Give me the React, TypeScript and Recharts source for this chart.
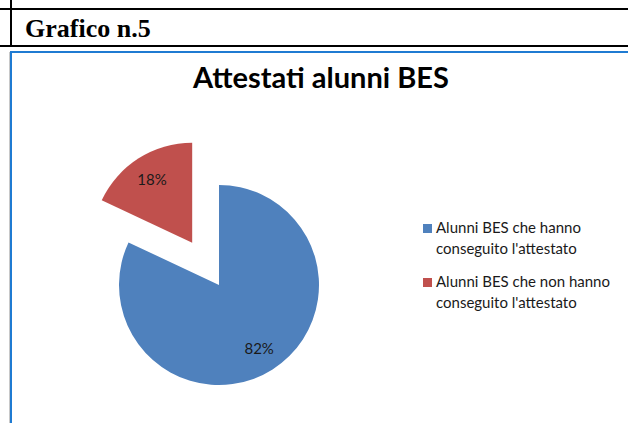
import { Cell, Legend, Pie, PieChart } from "recharts";

// categorie e valori (percentuali) del grafico
const categorie = [
  "Alunni BES che hanno conseguito l'attestato",
  "Alunni BES che non hanno conseguito l'attestato",
];
const valori = [82, 18];
const colori = ["#4F81BD", "#C0504D"];

const titoloTabella = "Grafico n.5";
const titoloGrafico = "Attestati alunni BES";

const data = categorie.map((name, i) => ({ name, value: valori[i] }));

const CX = 219;
const CY = 285;
const RAGGIO = 100;
const ESPLOSO = 1; // indice della fetta staccata
const DISTANZA = 50;

// angolo medio della fetta staccata (gradi, senso antiorario da ore 3)
const totale = valori.reduce((a, b) => a + b, 0);
const prima = valori.slice(0, ESPLOSO).reduce((a, b) => a + b, 0);
const medio = 90 - ((prima + valori[ESPLOSO] / 2) / totale) * 360;
const dx = DISTANZA * Math.cos((medio * Math.PI) / 180);
const dy = -DISTANZA * Math.sin((medio * Math.PI) / 180);

const RAD = Math.PI / 180;

function etichetta(visibile: number) {
  return (props: any) => {
    const { cx, cy, midAngle, outerRadius, percent, index } = props;
    if (index !== visibile) return null;
    const r = outerRadius * 0.75;
    const x = cx + r * Math.cos(-midAngle * RAD);
    const y = cy + r * Math.sin(-midAngle * RAD);
    return (
      <text
        x={x}
        y={y}
        fill="#1a1a1a"
        fontSize={15}
        fontFamily="Lato"
        textAnchor="middle"
        dominantBaseline="central"
      >
        {Math.round(percent * 100)}%
      </text>
    );
  };
}

function Legenda() {
  return (
    <div style={{ fontFamily: "Lato", fontSize: 15, lineHeight: "21px", color: "#1a1a1a" }}>
      {categorie.map((c, i) => (
        <div key={c} style={{ position: "relative", paddingLeft: 13, marginBottom: 12, width: 190 }}>
          <span
            style={{
              position: "absolute",
              left: 0,
              top: 7,
              width: 9,
              height: 9,
              background: colori[i],
            }}
          />
          {c}
        </div>
      ))}
    </div>
  );
}

export default function App() {
  return (
    <div
      style={{
        position: "absolute",
        left: 0,
        top: 0,
        width: 628,
        height: 423,
        background: "#fff",
        overflow: "hidden",
      }}
    >
      {/* bordi della tabella */}
      <div style={{ position: "absolute", left: 0, top: 8, width: 628, height: 2, background: "#000" }} />
      <div style={{ position: "absolute", left: 0, top: 45, width: 628, height: 2, background: "#000" }} />
      <div style={{ position: "absolute", left: 10, top: 0, width: 2, height: 47, background: "#000" }} />
      <div
        style={{
          position: "absolute",
          left: 25,
          top: 16,
          fontFamily: "Liberation Serif",
          fontWeight: "bold",
          fontSize: 26,
          lineHeight: "26px",
          color: "#000",
        }}
      >
        {titoloTabella}
      </div>

      {/* cornice del grafico */}
      <div style={{ position: "absolute", left: 9, top: 52, width: 1, height: 371, background: "#c8c8c8" }} />
      <div style={{ position: "absolute", left: 10, top: 51, width: 618, height: 2, background: "#1f7bd2" }} />
      <div style={{ position: "absolute", left: 10, top: 51, width: 2, height: 372, background: "#1f7bd2" }} />

      <div
        style={{
          position: "absolute",
          left: 0,
          top: 62,
          width: 642,
          textAlign: "center",
          fontFamily: "Lato",
          fontWeight: "bold",
          fontSize: 29,
          lineHeight: "29px",
          color: "#000",
        }}
      >
        {titoloGrafico}
      </div>

      <div style={{ position: "absolute", left: 0, top: 0 }}>
        <PieChart width={628} height={423} margin={{ top: 0, right: 0, bottom: 0, left: 0 }}>
          <Pie
            data={data}
            dataKey="value"
            nameKey="name"
            cx={CX}
            cy={CY}
            outerRadius={RAGGIO}
            startAngle={90}
            endAngle={-270}
            stroke="none"
            isAnimationActive={false}
            labelLine={false}
            label={etichetta(0)}
            legendType="none"
          >
            {data.map((d, i) => (
              <Cell key={d.name} fill={i === ESPLOSO ? "transparent" : colori[i]} />
            ))}
          </Pie>
          <Pie
            data={data}
            dataKey="value"
            nameKey="name"
            cx={CX + dx}
            cy={CY + dy}
            outerRadius={RAGGIO}
            startAngle={90}
            endAngle={-270}
            stroke="none"
            isAnimationActive={false}
            labelLine={false}
            label={etichetta(ESPLOSO)}
            legendType="none"
          >
            {data.map((d, i) => (
              <Cell key={d.name} fill={i === ESPLOSO ? colori[i] : "transparent"} />
            ))}
          </Pie>
          <Legend
            content={() => <Legenda />}
            wrapperStyle={{ position: "absolute", left: 423, top: 217, width: 205 }}
          />
        </PieChart>
      </div>
    </div>
  );
}
